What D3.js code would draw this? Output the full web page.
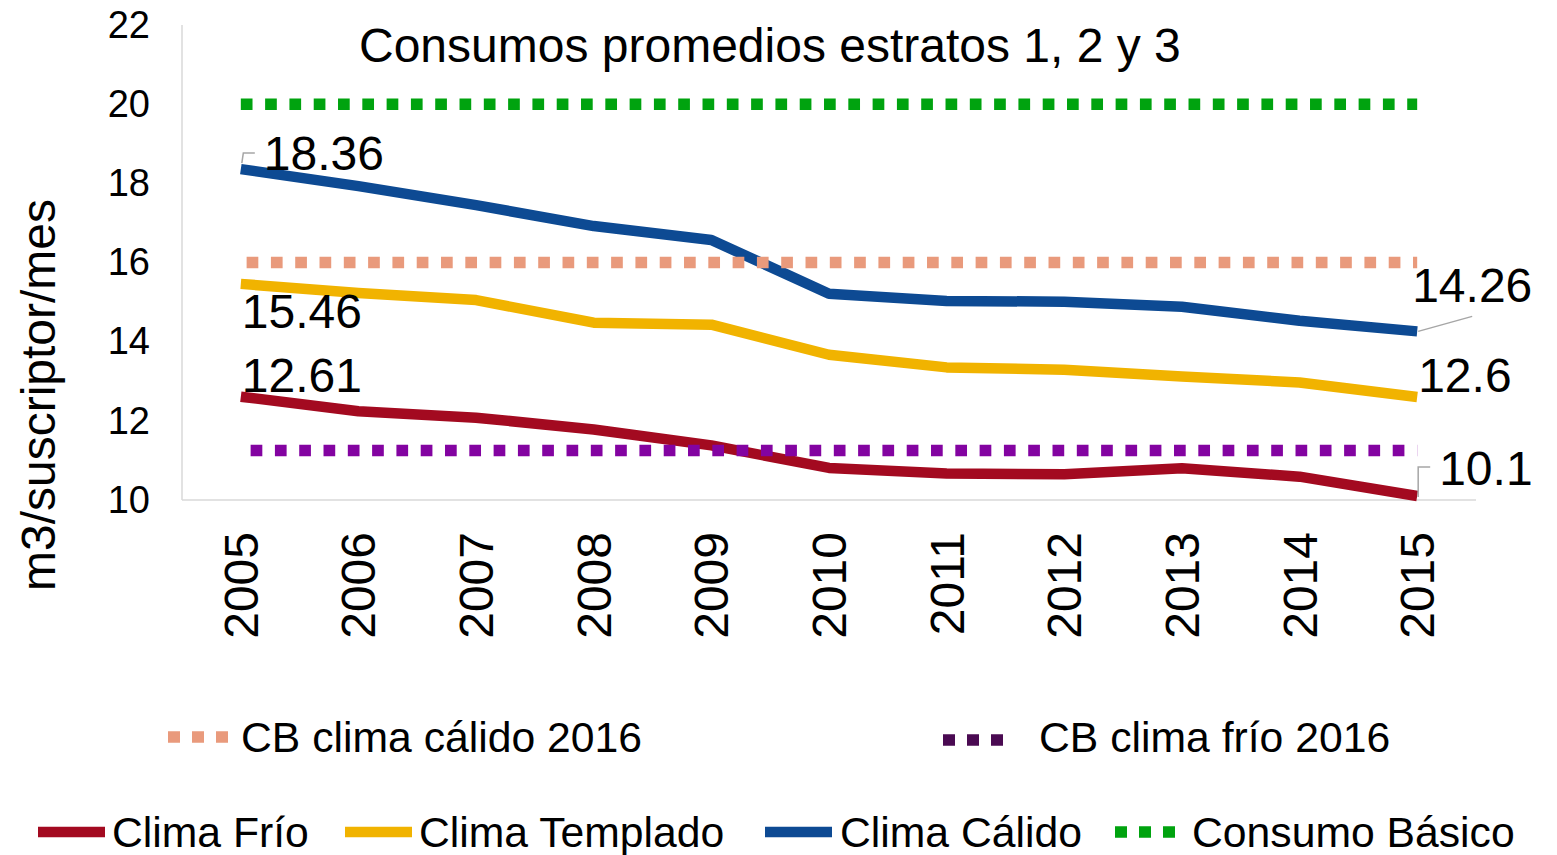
<!DOCTYPE html>
<html><head><meta charset="utf-8">
<script src="https://cdn.jsdelivr.net/npm/d3@7"></script>
<style>
body{margin:0;background:#fff}
svg{display:block}
text{font-family:"Liberation Sans",Arial,sans-serif;fill:#000}
</style>
</head><body>
<svg id="c" width="1557" height="855"></svg>
<script>
// ---- data ----
const years = ["2005","2006","2007","2008","2009","2010","2011","2012","2013","2014","2015"];
const climaFrio     = [12.61,12.24,12.08,11.78,11.38,10.81,10.67,10.65,10.80,10.59,10.10];
const climaTemplado = [15.46,15.23,15.05,14.48,14.43,13.67,13.35,13.29,13.12,12.97,12.60];
const climaCalido   = [18.36,17.93,17.45,16.92,16.57,15.21,15.03,15.01,14.88,14.53,14.26];
const consumoBasico = [20,20,20,20,20,20,20,20,20,20,20];
const cbCalido2016  = [16,16,16,16,16,16,16,16,16,16,16];
const cbFrio2016    = [11.25,11.25,11.25,11.25,11.25,11.25,11.25,11.25,11.25,11.25,11.25];
const yTicks = [10,12,14,16,18,20,22];
const title = "Consumos promedios estratos 1, 2 y 3";
const yTitle = "m3/suscriptor/mes";

// ---- layout ----
const svg = d3.select("#c");
const x = d3.scaleBand().domain(years).range([182,1476]);
const y = d3.scaleLinear().domain([10,22]).range([500,25]);
const cx = d => x(d) + x.bandwidth()/2;

const solid = [
  {name:"Clima Frío", vals:climaFrio, color:"#a30a20"},
  {name:"Clima Templado", vals:climaTemplado, color:"#f1b300"},
  {name:"Clima Cálido", vals:climaCalido, color:"#0d4a93"}
];
const dotted = [
  {name:"Consumo Básico", vals:consumoBasico, color:"#00a30f", off:0},
  {name:"CB clima cálido 2016", vals:cbCalido2016, color:"#e99a7c", off:18.5},
  {name:"CB clima frío 2016", vals:cbFrio2016, color:"#8303a1", off:14.5}
];

// axes
svg.append("line").attr("x1",182).attr("x2",182).attr("y1",y(22)).attr("y2",y(10))
  .attr("stroke","#d9d9d9").attr("stroke-width",1.5);
svg.append("line").attr("x1",182).attr("x2",1476).attr("y1",y(10)).attr("y2",y(10))
  .attr("stroke","#d9d9d9").attr("stroke-width",1.5);

const yAxis = d3.axisLeft(y).tickValues(yTicks).tickSize(0).tickPadding(32).tickFormat(d3.format("d"));
const gy = svg.append("g").attr("transform","translate(182,0)").call(yAxis);
gy.select(".domain").remove();
gy.selectAll("text").style("font-family","'Liberation Sans',Arial,sans-serif").style("font-size","38px").attr("fill","#000");

const xAxis = d3.axisBottom(x).tickSize(0).tickPadding(0);
const gx = svg.append("g").attr("transform","translate(0,500)").call(xAxis);
gx.select(".domain").remove();
gx.selectAll("text")
  .style("font-family","'Liberation Sans',Arial,sans-serif").style("font-size","48px").attr("fill","#000")
  .attr("text-anchor","end").attr("dy",null).attr("y",null)
  .attr("transform","translate(17,32) rotate(-90)");

// lines
const line = d3.line().x((v,i)=>cx(years[i])).y(v=>y(v));
solid.forEach(s=>{
  svg.append("path").attr("d",line(s.vals)).attr("fill","none")
    .attr("stroke",s.color).attr("stroke-width",10.5).attr("stroke-linejoin","round");
});
dotted.forEach(s=>{
  svg.append("path").attr("d",line(s.vals)).attr("fill","none")
    .attr("stroke",s.color).attr("stroke-width",11.5)
    .attr("stroke-dasharray","11.7 12.6").attr("stroke-dashoffset",s.off);
});

// data labels
const lblFont = "48px";
function label(val, i, dx, dy){
  svg.append("text").attr("x",cx(years[i])+dx).attr("y",y(val)+dy)
    .style("font-size",lblFont).text(val);
}
const leader = (pts)=>svg.append("path").attr("d",d3.line()(pts)).attr("fill","none")
  .attr("stroke","#a6a6a6").attr("stroke-width",1.5);

// Clima Cálido 2005
{const px=cx(years[0]), py=y(climaCalido[0]);
 leader([[px+1,py-6],[px+2.5,py-16],[px+14,py-16]]);
 label(climaCalido[0],0,23,1);}
label(climaTemplado[0],0,1,44);
label(climaFrio[0],0,1,-5);
// 2015
{const px=cx(years[10]), py=y(climaCalido[10]);
 leader([[px+1,py],[px+55,py-15]]);
 label(climaCalido[10],10,-5,-29);}
label(climaTemplado[10],10,1,-5);
{const px=cx(years[10]), py=y(climaFrio[10]);
 leader([[px+1,py+1],[px+1,py-29],[px+13,py-29]]);
 label(climaFrio[10],10,22,-11);}

// title
svg.append("text").attr("x",359).attr("y",62).style("font-size","48px").text(title);

// y title
svg.append("text").attr("transform","translate(55,395) rotate(-90)")
  .attr("text-anchor","middle").style("font-size","48px").text(yTitle);

// legend
const legFont = "42.7px";
function legDots(x0, yy, color){
  svg.append("line").attr("x1",x0).attr("x2",x0+60).attr("y1",yy).attr("y2",yy)
    .attr("stroke",color).attr("stroke-width",11.5).attr("stroke-dasharray","12 12");
}
function legLine(x0, yy, color){
  svg.append("line").attr("x1",x0).attr("x2",x0+67).attr("y1",yy).attr("y2",yy)
    .attr("stroke",color).attr("stroke-width",10.5);
}
function legText(x0, yy, t){
  svg.append("text").attr("x",x0).attr("y",yy).style("font-size",legFont).text(t);
}
legDots(168,737,"#e99a7c"); legText(241,752,dotted[1].name);
legDots(943,740,"#4a0a52"); legText(1039,752,dotted[2].name);
legLine(38,832,solid[0].color); legText(112,847,solid[0].name);
legLine(345,832,solid[1].color); legText(419,847,solid[1].name);
legLine(765,832,solid[2].color); legText(840,847,solid[2].name);
legDots(1115,832,"#00a30f"); legText(1192,847,dotted[0].name);
</script>
</body></html>
